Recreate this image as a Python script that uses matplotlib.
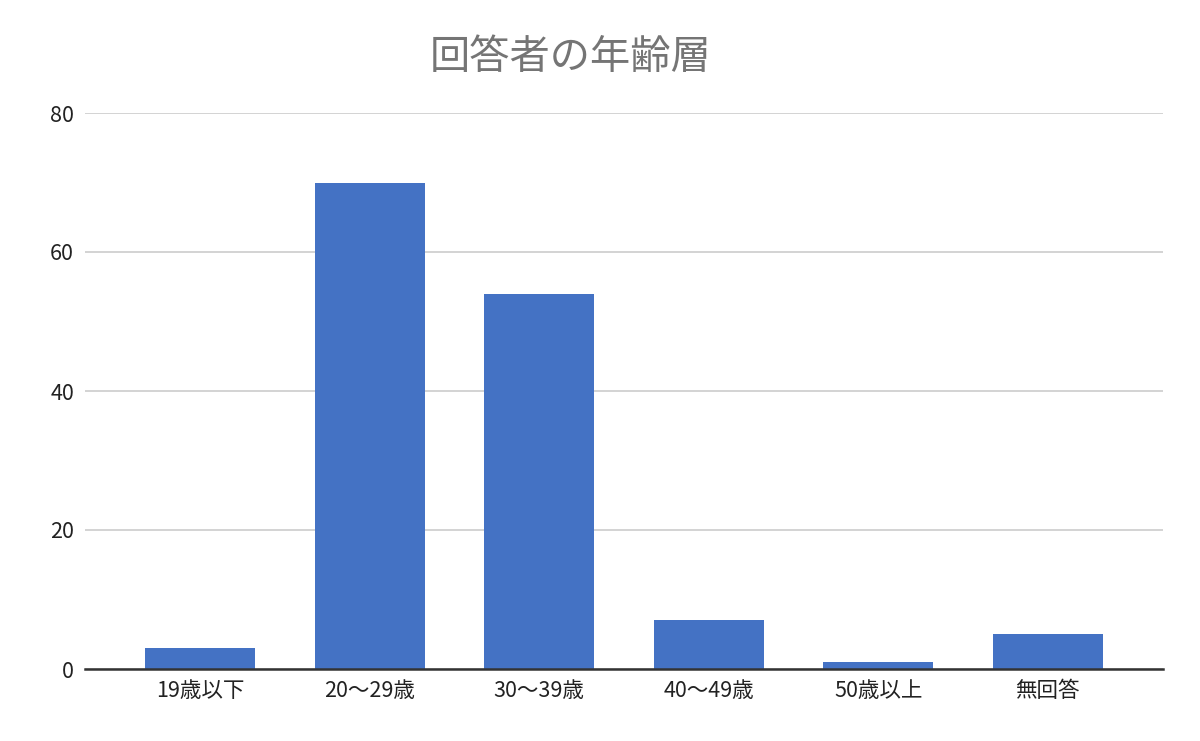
import matplotlib.pyplot as plt

plt.rcParams['font.family'] = ['Noto Sans CJK JP', 'DejaVu Sans']

# Data.
categories = ['19歳以下', '20～29歳', '30～39歳', '40～49歳', '50歳以上', '無回答']
counts = [3, 70, 54, 7, 1, 5]
y_ticks = [0, 20, 40, 60, 80]

fig = plt.figure(figsize=(12, 7.41), dpi=100)
ax = fig.add_axes([85 / 1200, 1 - 669 / 741, (1163 - 85) / 1200, (669 - 113) / 741])

ax.bar(range(len(categories)), counts, width=0.65, color='#4472C4', zorder=3)

ax.set_xlim(-0.68, len(categories) - 1 + 0.68)
ax.set_ylim(0, 80)
ax.set_yticks(y_ticks)
ax.set_xticks(range(len(categories)))
ax.set_xticklabels(categories)
ax.tick_params(axis='both', length=0, labelsize=15.5, colors='#222222')
ax.tick_params(axis='x', pad=8)
ax.tick_params(axis='y', pad=8)

# Horizontal gridlines only.
ax.grid(axis='y', color='#cccccc', linewidth=1.2, zorder=0)
for side in ['top', 'right', 'left']:
    ax.spines[side].set_visible(False)
ax.spines['bottom'].set_color('#333333')
ax.spines['bottom'].set_linewidth(1.8)
ax.spines['bottom'].set_zorder(4)

fig.text(571 / 1200, 1 - 57 / 741, '回答者の年齢層', ha='center', va='center',
         fontsize=29, color='#757575')

plt.savefig('out.png', dpi=100)
